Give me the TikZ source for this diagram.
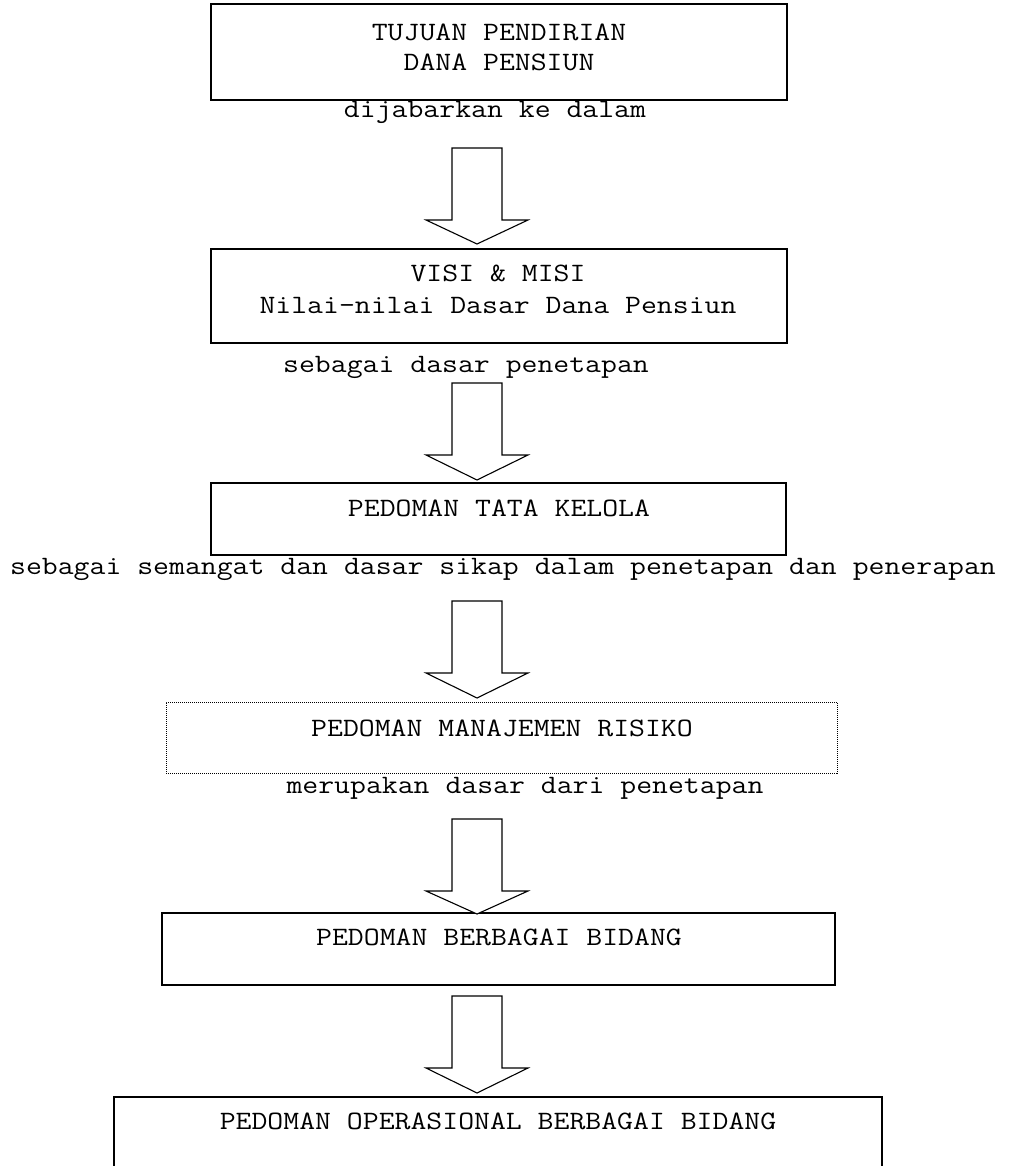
\documentclass[tikz,border=0pt]{standalone}
\usepackage{fontspec}
\newfontfamily\courlike[FakeStretch=1.165]{Latin Modern Mono}
\begin{document}
\begin{tikzpicture}[x=1pt,y=-1pt,
  box/.style={draw, line width=1.3pt, inner sep=0pt},
  dotbox/.style={draw, line width=1pt, dash pattern=on 1pt off 1pt, inner sep=0pt},
  txt/.style={font=\courlike\fontsize{26.5}{30}\selectfont, anchor=base, inner sep=0pt},
  arr/.style={draw, line width=1.1pt, fill=white, line join=miter}]
\clip (0,0) rectangle (1010,1166);
\fill[white] (0,0) rectangle (1010,1166);
\newcommand\blkarrow[4]{%
  \coordinate (#1) at (477,#4);
  \draw[arr] (452,#2) -- (502,#2) -- (502,#3) -- (528,#3) -- (#1) -- (426,#3) -- (452,#3) -- cycle;}
% boxes
\node[box, minimum width=576pt, minimum height=96pt] (b1) at (499,52) {};
\node[box, minimum width=576pt, minimum height=94pt] (b2) at (499,296) {};
\node[box, minimum width=575pt, minimum height=72pt] (b3) at (498.5,519) {};
\node[dotbox, minimum width=671pt, minimum height=71pt] (b4) at (501.5,737.5) {};
\node[box, minimum width=673pt, minimum height=72pt] (b5) at (498.5,949) {};
\node[box, minimum width=768pt, minimum height=103pt] (b6) at (498,1148.5) {};
% texts
\node[txt] (t1a) at (499,41) {TUJUAN PENDIRIAN};
\node[txt] (t1b) at (499,71) {DANA PENSIUN};
\node[txt] (l1) at (495,118) {dijabarkan ke dalam};
\node[txt] (t2a) at (498,281) {VISI \& MISI};
\node[txt] (t2b) at (498,313) {Nilai-nilai Dasar Dana Pensiun};
\node[txt] (l2) at (466,372) {sebagai dasar penetapan};
\node[txt] (t3) at (499,516) {PEDOMAN TATA KELOLA};
\node[txt] (l3) at (503,574) {sebagai semangat dan dasar sikap dalam penetapan dan penerapan};
\node[txt] (t4) at (502,736) {PEDOMAN MANAJEMEN RISIKO};
\node[txt] (l4) at (525,793) {merupakan dasar dari penetapan};
\node[txt] (t5) at (499,945) {PEDOMAN BERBAGAI BIDANG};
\node[txt] (t6) at (498,1129) {PEDOMAN OPERASIONAL BERBAGAI BIDANG};
% block arrows
\blkarrow{a1}{148}{220}{244}
\blkarrow{a2}{383}{455}{480}
\blkarrow{a3}{601}{673}{698}
\blkarrow{a4}{819}{891}{914}
\blkarrow{a5}{996}{1068}{1093}
\end{tikzpicture}
\end{document}
